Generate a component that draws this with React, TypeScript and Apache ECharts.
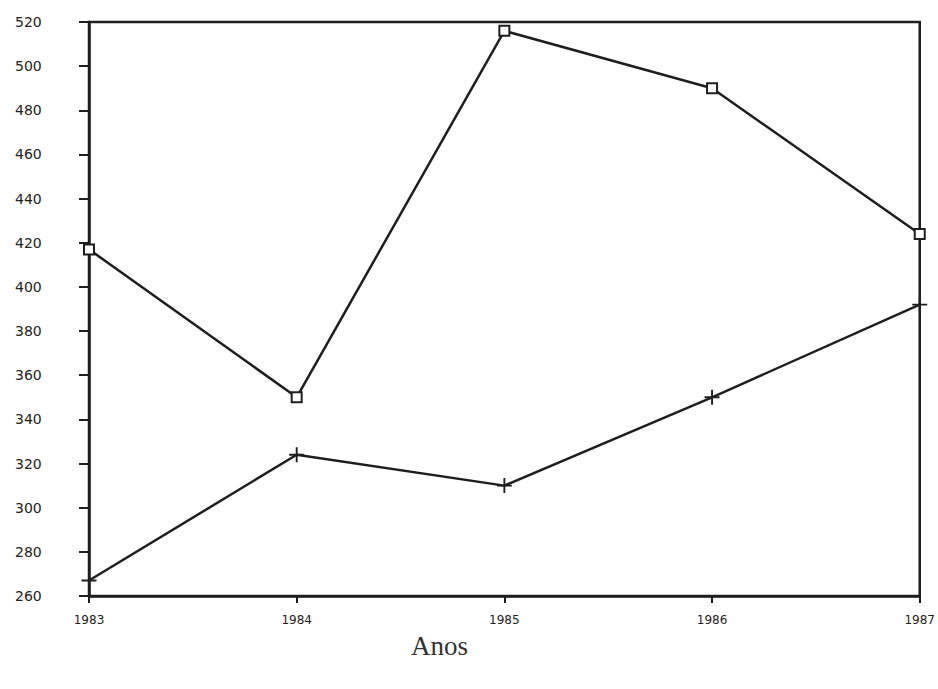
import React, { useEffect, useRef } from "react";
import * as echarts from "echarts";

const years = ["1983", "1984", "1985", "1986", "1987"];
const squareSeries = [417, 350, 516, 490, 424];
const plusSeries = [267, 324, 310, 350, 392];
const yMin = 260;
const yMax = 520;
const yStep = 20;
const xAxisTitle = "Anos";

const plusPath =
  "path://M-1,-8 L1,-8 L1,-1 L8,-1 L8,1 L1,1 L1,8 L-1,8 L-1,1 L-8,1 L-8,-1 L-1,-1 Z";

export default function App() {
  const ref = useRef<HTMLDivElement>(null);
  useEffect(() => {
    if (!ref.current) return;
    const chart = echarts.init(ref.current, null, { renderer: "svg" });
    chart.setOption({
      animation: false,
      backgroundColor: "#ffffff",
      grid: {
        left: 89,
        right: 18,
        top: 22,
        bottom: 93,
        show: true,
        borderColor: "#1e1e1e",
        borderWidth: 2.5,
        backgroundColor: "transparent",
      },
      xAxis: {
        type: "category",
        data: years,
        boundaryGap: false,
        axisLine: { show: true, lineStyle: { color: "#1e1e1e", width: 2.5 } },
        axisTick: { show: true, length: 7, inside: false, lineStyle: { color: "#1e1e1e", width: 2 } },
        axisLabel: {
          color: "#222",
          fontFamily: "DejaVu Sans",
          fontSize: 12,
          margin: 18,
          letterSpacing: -1,
        },
        splitLine: { show: false },
      },
      yAxis: {
        type: "value",
        min: yMin,
        max: yMax,
        interval: yStep,
        axisLine: { show: true, lineStyle: { color: "#1e1e1e", width: 2.5 } },
        axisTick: { show: true, length: 10, lineStyle: { color: "#1e1e1e", width: 2 } },
        axisLabel: {
          color: "#222",
          fontFamily: "DejaVu Sans",
          fontSize: 14,
          margin: 74,
          align: "left",
          letterSpacing: -1,
        },
        splitLine: { show: false },
      },
      series: [
        {
          type: "line",
          data: squareSeries,
          symbol: "rect",
          symbolSize: 10,
          showAllSymbol: true,
          lineStyle: { color: "#1e1e1e", width: 2.5 },
          itemStyle: { color: "#fff", borderColor: "#1e1e1e", borderWidth: 2 },
        },
        {
          type: "line",
          data: plusSeries,
          symbol: plusPath,
          symbolSize: 15,
          showAllSymbol: true,
          lineStyle: { color: "#1e1e1e", width: 2.5 },
          itemStyle: { color: "#1e1e1e" },
        },
      ],
      graphic: [
        {
          type: "text",
          left: 411,
          top: 632,
          style: {
            text: xAxisTitle,
            fontFamily: "Liberation Serif",
            fontSize: 27,
            fill: "#333",
          },
        },
      ],
    });
    return () => chart.dispose();
  }, []);
  return (
    <div
      ref={ref}
      style={{ position: "fixed", left: 0, top: 0, width: 938, height: 689, background: "#fff" }}
    />
  );
}
